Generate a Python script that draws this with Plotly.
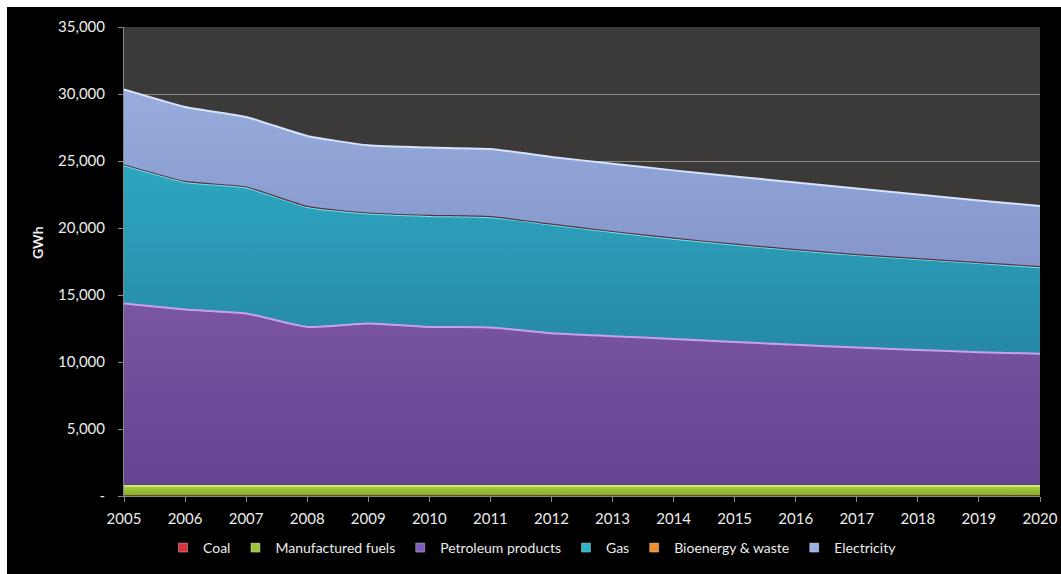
import plotly.graph_objects as go

years = list(range(2005, 2021))

coal = [20] * 16
manufactured_fuels = [730] * 16
petroleum_products = [13620, 13170, 12870, 11870, 12130, 11870, 11830, 11400,
                      11180, 10960, 10750, 10530, 10340, 10150, 9980, 9870]
gas = [10310, 9520, 9400, 8950, 8200, 8280, 8230, 8100,
       7770, 7490, 7250, 7070, 6890, 6780, 6650, 6460]
bioenergy_waste = [40] * 16
electricity = [5610, 5550, 5220, 5260, 5050, 5060, 5050, 5010,
               5060, 5060, 5060, 5010, 4930, 4780, 4630, 4530]

y_tick_vals = [0, 5000, 10000, 15000, 20000, 25000, 30000, 35000]
y_tick_text = ["-", "5,000", "10,000", "15,000", "20,000", "25,000", "30,000", "35,000"]

# name, values, (dark, light) fill shades, top-edge colour, edge width, legend swatch
series = [
    ("Coal", coal, ("#b0302a", "#c8403a"), "#7a2a2a", 1, "#d8323c"),
    ("Manufactured fuels", manufactured_fuels, ("#86ad2a", "#a6cc40"), "#c8e86a", 2, "#9cc43a"),
    ("Petroleum products", petroleum_products, ("#654390", "#7a55a2"), "#c9a0ea", 2, "#7e5cc0"),
    ("Gas", gas, ("#2689a6", "#2ea6c0"), "#74e3f2", 2, "#2fb2c8"),
    ("Bioenergy & waste", bioenergy_waste, ("#e07f28", "#f09238"), "#5a3040", 1.2, "#f08c30"),
    ("Electricity", electricity, ("#8496cb", "#98acdd"), "#d6e2fa", 2, "#9cb0e0"),
]

FONT = "Lato, 'Open Sans', sans-serif"
TXT = "#ececec"

fig = go.Figure()
for name, vals, (dark, light), edge, w, swatch in series:
    fig.add_trace(go.Scatter(
        x=years, y=vals, name=name, mode="lines",
        stackgroup="energy", fillcolor=dark,
        fillgradient=dict(type="vertical", colorscale=[[0, dark], [1, light]]),
        line=dict(color=edge, width=w, shape="spline", smoothing=0.5),
        hoverinfo="x+y+name", showlegend=False, legendgroup=name,
    ))
# square legend swatches
for name, vals, shades, edge, w, swatch in series:
    fig.add_trace(go.Scatter(
        x=[None], y=[None], name=name, mode="markers",
        marker=dict(symbol="square", size=9, color=swatch,
                    line=dict(color="rgba(255,255,255,0.35)", width=1)),
        legendgroup=name, showlegend=True, hoverinfo="skip",
    ))

L, R, T, B = 124, 21, 27, 78
W, H = 1061, 574
pw, ph = W - L - R, H - T - B


def px_x(p):
    return (p - L) / pw


def px_y(p):
    return (H - B - p) / ph


fig.update_layout(
    width=W, height=H,
    margin=dict(l=L, r=R, t=T, b=B, autoexpand=False),
    paper_bgcolor="white",
    plot_bgcolor="#3c3a38",
    font=dict(family=FONT, color=TXT, size=14),
    showlegend=True,
    legend=dict(
        orientation="h", x=px_x(163), xanchor="left",
        y=px_y(548), yanchor="middle",
        font=dict(size=14, color=TXT),
        bgcolor="rgba(0,0,0,0)", itemwidth=30, traceorder="normal",
    ),
    shapes=[
        dict(type="rect", xref="paper", yref="paper",
             x0=px_x(7), x1=px_x(W + 40), y0=px_y(H + 40), y1=px_y(7),
             fillcolor="black", line=dict(width=0), layer="below"),
        dict(type="rect", xref="paper", yref="paper",
             x0=0, x1=1, y0=0, y1=1,
             fillcolor="#3c3a38", line=dict(width=0), layer="below"),
    ],
    annotations=[
        dict(text="<b>GWh</b>", xref="paper", yref="paper",
             x=px_x(38), y=px_y(243), textangle=-90, showarrow=False,
             font=dict(size=14, color=TXT, family=FONT),
             xanchor="center", yanchor="middle"),
    ],
)

fig.update_xaxes(
    range=[2005, 2020], tickmode="array", tickvals=years,
    ticks="outside", ticklen=5, tickcolor="#8a8a8a",
    showgrid=False, showline=True, linecolor="#8a8a8a", linewidth=1,
    tickfont=dict(size=15, color=TXT), zeroline=False,
    automargin=False, ticklabelstandoff=4,
)
fig.update_yaxes(
    range=[0, 35000], tickmode="array", tickvals=y_tick_vals, ticktext=y_tick_text,
    ticks="outside", ticklen=5, tickcolor="#8a8a8a",
    showgrid=True, gridcolor="#8c8a88", gridwidth=1,
    showline=True, linecolor="#8a8a8a", linewidth=1,
    tickfont=dict(size=15, color=TXT), zeroline=False,
    ticklabelstandoff=10, automargin=False,
)

fig.write_html("out.html")
